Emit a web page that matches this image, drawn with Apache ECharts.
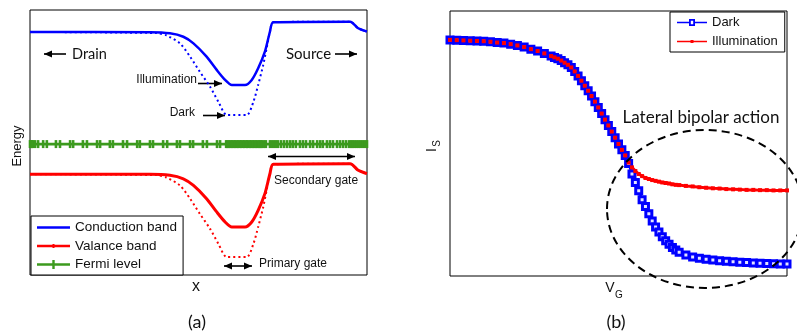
<!DOCTYPE html>
<html><head><meta charset="utf-8">
<script src="https://cdn.jsdelivr.net/npm/echarts@6/dist/echarts.min.js"></script>
<style>html,body{margin:0;padding:0;background:#fff}#c{width:797px;height:333px}</style>
</head><body><div id="c"></div>
<script>
// ---------- Panel (a): band diagram (x and energy in arbitrary units 0..100) ----------
const bandX      = [0,35.6,41.5,45.5,48.5,52.4,55.4,57.9,59.9,63.8,65.8,67.7,69.7,71.2,72.2,95.0,97.4,99.4,100];
const condIllum  = [91.7,91.6,91.2,89.9,87.4,82.4,77.4,73.6,71.7,71.7,73.6,78.0,84.3,91.8,95.4,95.6,93.1,92.1,91.9];
const valIllum   = [38.0,38.0,37.6,36.3,33.8,28.8,23.8,20.0,18.1,18.1,20.0,24.4,30.7,38.2,41.8,42.0,39.5,38.5,38.3];
const bandDarkX  = [0,37.5,40.5,44.5,47.5,50.4,53.4,55.9,58.4,64.3,66.3,67.7,69.2,70.2,71.2,72.2,95.0,97.4,99.4,100];
const condDark   = [91.7,91.3,90.4,87.4,82.4,76.7,71.1,65.4,60.4,60.4,65.4,71.7,79.2,85.5,91.8,95.4,95.6,93.1,92.1,91.9];
const valDark    = [38.0,37.7,36.8,33.8,28.8,23.1,17.5,11.8,6.8,6.8,11.8,18.1,25.6,31.9,38.2,41.8,42.0,39.5,38.5,38.3];
const fermiLevel = 49.4;
const fermiX = [0,0.3,0.6,0.9,1.5,2.4,3.9,5.0,7.7,8.9,11.9,12.8,15.7,16.9,19.9,20.8,23.7,24.6,27.6,28.8,31.8,32.6,35.6,36.5,39.5,40.7,43.6,44.5,47.5,48.4,51.3,52.5,55.5,56.4,
  58.2,58.6,59.0,59.5,59.9,60.4,60.8,61.3,61.7,62.2,62.6,63.1,63.5,64.0,64.4,64.8,65.3,65.7,66.2,66.6,67.1,67.5,68.0,68.4,68.8,
  69.4,70.0,71.2,71.8,72.4,73.0,73.6,74.5,75.4,76.3,77.2,78.0,78.9,80.1,81.0,81.9,83.1,84.0,85.2,86.1,86.9,88.1,89.0,89.9,91.1,92.0,92.9,93.8,94.7,95.3,95.8,96.4,97.0,97.6,98.2,98.8,99.4,100];
const legendA = ['Conduction band','Valance band','Fermi level'];

// ---------- Panel (b): I_S vs V_G (arbitrary units 0..100) ----------
const vg      = [0,2,4,6,8,10,12,14,16,18,20,22,24,26,28,30,31,32,33,34,35,36,37,38,39,40,41,42,43,44,45,46,47,48,49,50,51,52,53,54,55,56,57,58,59,60,61,62,63,64,65,66,67,68,70,72,74,76,78,80,82,84,86,88,90,92,94,96,98,100];
const isDark  = [89.1,89.0,88.9,88.8,88.7,88.6,88.4,88.1,87.9,87.5,87.0,86.4,85.6,84.9,84.0,83.0,82.5,82.0,81.3,80.5,79.7,78.7,77.2,75.5,73.7,71.8,69.9,67.9,65.8,63.6,61.3,59.0,56.8,54.5,52.2,49.8,47.6,45.5,
  42.5,38.5,35.3,32.2,28.8,26.2,23.5,20.8,18.5,16.6,14.8,13.3,12.0,10.8,9.8,9.0,7.9,7.2,6.7,6.3,6.0,5.8,5.6,5.4,5.2,5.1,4.9,4.8,4.7,4.6,4.5,4.5];
const isIllum = [89.1,89.0,88.9,88.8,88.7,88.6,88.4,88.1,87.9,87.5,87.0,86.4,85.6,84.9,84.0,83.0,82.5,82.0,81.3,80.5,79.7,78.7,77.2,75.5,73.7,71.8,69.9,67.9,65.8,63.6,61.3,59.0,56.8,54.5,52.2,49.8,47.6,45.5,
  42.8,41.0,39.6,38.5,37.7,37.0,36.6,36.2,35.9,35.6,35.3,35.1,34.9,34.6,34.4,34.3,34.0,33.8,33.5,33.3,33.1,33.0,32.8,32.7,32.6,32.5,32.5,32.4,32.4,32.3,32.3,32.3];
const legendB = ['Dark','Illumination'];

const pair = (xs, ys) => xs.map((x, i) => [x, ys[i]]);
const ARIAL = '"Liberation Sans", Arial, sans-serif';
const CAL = 'Lato, "Open Sans", sans-serif';
const BLUE = '#0000ff', RED = '#ff0000', GREEN = '#3c9a1e';

// legend glyphs (line + marker) drawn as path icons
const ICON_LINE  = 'path://M0,3.8H33V6.2H0Z';
const ICON_VAL   = 'path://M0,3.8H33V6.2H0Z M15.5,3H17.5V7H15.5Z';
const ICON_FERMI = 'path://M0,3.8H33V6.2H0Z M15.3,0.5H17.7V9.5H15.3Z';
const ICON_DARK  = 'path://M0,3.2H12V0.5H18V3.2H30V4.8H18V7.5H12V4.8H0Z M13.8,2.3V5.7H16.2V2.3Z';
const ICON_ILL   = 'path://M0,3.2H30V4.8H0Z M13.5,2.5H16.5V5.5H13.5Z';

function arrow(x1, y1, x2, y2, both) {
  const els = [{type:'line', shape:{x1, y1, x2, y2}, style:{stroke:'#000', lineWidth:1.6}}];
  const head = (tx, ty, fx, fy) => {
    const a = Math.atan2(ty - fy, tx - fx), L = 8, W = 3.5;
    const bx = tx - L * Math.cos(a), by = ty - L * Math.sin(a);
    return {type:'polygon', shape:{points:[[tx,ty],[bx - W*Math.sin(a), by + W*Math.cos(a)],[bx + W*Math.sin(a), by - W*Math.cos(a)]]}, style:{fill:'#000'}};
  };
  els.push(head(x2, y2, x1, y1));
  if (both) els.push(head(x1, y1, x2, y2));
  return els;
}
function txt(x, y, text, font, align, extra) {
  return Object.assign({type:'text', x, y, style:{text, font, fill:'#111', align: align || 'left', textAlign: align || 'left', verticalAlign:'middle', textVerticalAlign:'middle'}}, extra || {});
}

const chart = echarts.init(document.getElementById('c'), null, {renderer:'canvas'});
const hiddenAxis = (gi) => ({type:'value', gridIndex:gi, min:0, max:100, show:false});

chart.setOption({
  animation:false,
  backgroundColor:'#fff',
  grid:[
    {left:30, top:10, width:337, height:265, show:true, borderColor:'#000', borderWidth:1, backgroundColor:'#fff'},
    {left:450, top:11, width:337, height:265, show:true, borderColor:'#000', borderWidth:1, backgroundColor:'#fff'}
  ],
  xAxis:[hiddenAxis(0), hiddenAxis(1)],
  yAxis:[hiddenAxis(0), hiddenAxis(1)],
  legend:[
    {data:[
       {name:legendA[0], icon:ICON_LINE,  itemStyle:{color:BLUE, borderWidth:0}},
       {name:legendA[1], icon:ICON_VAL,   itemStyle:{color:RED, borderWidth:0}},
       {name:legendA[2], icon:ICON_FERMI, itemStyle:{color:GREEN, borderWidth:0}}],
     left:31, top:216, orient:'vertical', selectedMode:false, backgroundColor:'#fff',
     borderColor:'#000', borderWidth:1, padding:[4,6,3,6], itemWidth:33, itemHeight:10, itemGap:3.5,
     textStyle:{fontFamily:ARIAL, fontSize:13.5, color:'#111', lineHeight:15}},
    {data:[
       {name:legendB[0], icon:ICON_DARK, itemStyle:{color:BLUE, borderWidth:0}},
       {name:legendB[1], icon:ICON_ILL,  itemStyle:{color:RED, borderWidth:0}}],
     left:670, top:12, orient:'vertical', selectedMode:false, backgroundColor:'#fff',
     borderColor:'#000', borderWidth:1, padding:[3,7,3,7], itemWidth:30, itemHeight:8, itemGap:4,
     textStyle:{fontFamily:ARIAL, fontSize:13, color:'#111', lineHeight:15}}
  ],
  series:[
    {name:'Conduction band (dark)', type:'line', xAxisIndex:0, yAxisIndex:0, data:pair(bandDarkX, condDark), smooth:0.25,
     symbol:'none', lineStyle:{color:BLUE, width:2, type:[2,3]}},
    {name:'Conduction band', type:'line', xAxisIndex:0, yAxisIndex:0, data:pair(bandX, condIllum), smooth:0.25,
     symbol:'none', itemStyle:{color:BLUE}, lineStyle:{color:BLUE, width:2.5}},
    {name:'Valance band (dark)', type:'line', xAxisIndex:0, yAxisIndex:0, data:pair(bandDarkX, valDark), smooth:0.25,
     symbol:'none', lineStyle:{color:RED, width:2, type:[2,3]}},
    {name:'Valance band', type:'line', xAxisIndex:0, yAxisIndex:0, data:pair(bandX, valIllum), smooth:0.25,
     symbol:'none', itemStyle:{color:RED}, lineStyle:{color:RED, width:3}},
    {name:'Fermi level', type:'line', xAxisIndex:0, yAxisIndex:0, data:fermiX.map(x => [x, fermiLevel]),
     symbol:'rect', symbolSize:[2.6,8],
     itemStyle:{color:GREEN}, lineStyle:{color:GREEN, width:2.8}},
    {name:'Dark', type:'line', xAxisIndex:1, yAxisIndex:1, data:pair(vg, isDark),
     symbol:'rect', symbolSize:6, itemStyle:{color:'#e4e4ff', borderColor:BLUE, borderWidth:3},
     lineStyle:{color:BLUE, width:2.5}},
    {name:'Illumination', type:'line', xAxisIndex:1, yAxisIndex:1, data:pair(vg, isIllum),
     symbol:'rect', symbolSize:4, itemStyle:{color:RED}, lineStyle:{color:RED, width:3}}
  ],
  graphic:[
    // panel (a) annotations
    ...arrow(66, 54, 44, 54), txt(72, 54, 'Drain', '14.5px ' + CAL),
    txt(286, 54, 'Source', '15px ' + CAL), ...arrow(335, 54, 357, 54),
    txt(197, 80, 'Illumination', '12px ' + ARIAL, 'right'), ...arrow(198, 83.5, 222, 83.5),
    txt(195, 113, 'Dark', '12px ' + ARIAL, 'right'), ...arrow(203, 115.5, 225, 115.5),
    ...arrow(268, 156.5, 355, 156.5, true), txt(274, 180.5, 'Secondary gate', '12px ' + ARIAL),
    ...arrow(224, 266, 252, 266, true), txt(259, 264, 'Primary gate', '12px ' + ARIAL),
    txt(17, 146, 'Energy', '13px ' + ARIAL, 'center', {rotation:Math.PI/2}),
    txt(196, 287, 'x', '16px ' + ARIAL, 'center'),
    txt(197, 322, '(a)', '18px ' + CAL, 'center'),
    // panel (b) annotations
    {type:'ellipse', shape:{cx:705, cy:209, rx:98, ry:79}, style:{fill:null, stroke:'#000', lineWidth:2, lineDash:[8,5]}, z:100},
    txt(701, 118, 'Lateral bipolar action', '17px ' + CAL, 'center'),
    txt(432, 150, 'I', '14px ' + ARIAL, 'center', {rotation:Math.PI/2}),
    txt(437, 143.5, 'S', '10px ' + ARIAL, 'center', {rotation:Math.PI/2}),
    txt(610, 288, 'V', '14px ' + ARIAL, 'center'),
    txt(619, 295, 'G', '10px ' + ARIAL, 'center'),
    txt(616, 322, '(b)', '18px ' + CAL, 'center')
  ]
});
</script></body></html>
